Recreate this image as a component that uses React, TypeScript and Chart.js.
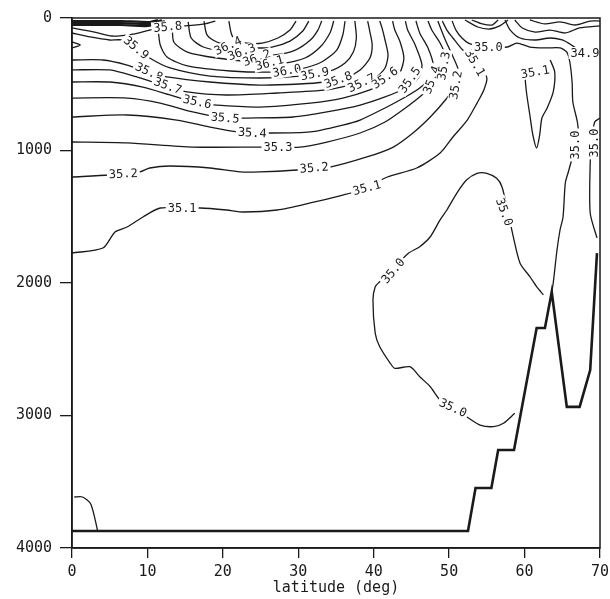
import { useEffect, useRef } from "react";
import { Chart, registerables } from "chart.js";
Chart.register(...registerables);

type P = [number, number];

// axes
const latTicks = [0, 10, 20, 30, 40, 50, 60, 70];
const depthTicks = [0, 1000, 2000, 3000, 4000];
const xTitle = "latitude (deg)";

// contour lines: [latitude (deg), depth (m)]
const c364: P[] = [[20.8,23],[21.1,113],[21.6,166],[23.2,189],[25.2,189],[27.3,151],[28.9,91],[29.7,23]];
const c363: P[] = [[17.5,23],[17.9,128],[19.2,181],[21.2,211],[23.9,226],[26.5,219],[28.9,174],[30.6,98],[31.4,23]];
const c362: P[] = [[15.4,30],[15.8,151],[17.4,219],[20.5,257],[23.6,279],[26.9,279],[29.6,242],[31.6,166],[32.6,91],[33.1,23]];
const c361: P[] = [[13.3,53],[13.5,181],[15.3,257],[19.2,302],[24.3,332],[28.2,340],[30.9,302],[32.9,219],[34.2,113],[34.7,23]];
const c360: P[] = [[11.4,75],[11.7,204],[12.6,294],[15.3,362],[21.0,400],[26.9,408],[30.2,385],[33.1,332],[35.1,242],[35.9,128],[36.2,23]];
const c359: P[] = [[0,113],[2.4,143],[5.0,166],[6.6,166],[8.4,219],[10.3,302],[13.0,377],[18.3,438],[24.9,453],[30.2,438],[34.2,400],[36.2,340],[37.3,257],[37.7,151],[37.5,23]];
const c358: P[] = [[0,317],[4.1,317],[7.3,355],[10.1,408],[12.6,445],[18.3,483],[24.9,506],[30.2,498],[33.5,483],[36.2,453],[38.2,392],[39.5,302],[39.8,204],[39.5,106],[39.2,23]];
const c358s: P[] = [[0,75],[3.0,106],[5.3,136],[8.1,121],[10.3,91],[12.3,68],[15.0,60],[17.6,45],[19.0,23]];
const c357: P[] = [[0,392],[5.0,392],[8.6,445],[10.7,483],[12.7,513],[15.3,558],[20.5,581],[27.2,566],[33.8,543],[37.5,498],[40.2,453],[41.5,377],[41.9,279],[41.5,166],[41.1,75],[40.8,23]];
const c356: P[] = [[0,483],[5.0,483],[9.4,521],[13.0,581],[16.6,642],[19.2,657],[24.9,672],[31.6,642],[35.9,604],[39.5,543],[42.2,468],[43.5,408],[44.0,302],[43.5,181],[42.8,91],[42.5,23]];
const c355: P[] = [[0,604],[7.3,604],[11.7,642],[16.0,709],[20.3,755],[23.2,755],[29.3,747],[33.8,709],[38.2,657],[41.5,596],[44.2,528],[45.9,453],[46.4,355],[45.5,204],[44.5,91],[44.2,23]];
const c354: P[] = [[0,747],[7.3,732],[13.9,770],[18.3,823],[21.9,860],[26.3,868],[31.6,860],[35.9,808],[38.2,770],[41.5,679],[44.2,596],[46.1,528],[47.5,453],[47.9,355],[47.2,226],[46.1,113],[45.6,23]];
const c353: P[] = [[0,936],[7.3,943],[16.0,974],[24.9,974],[30.2,974],[33.8,936],[38.2,868],[41.5,785],[44.2,679],[46.4,581],[48.1,483],[49.3,392],[49.6,302],[48.8,189],[47.7,91],[47.2,23]];
const c352: P[] = [[0,1200],[5.0,1185],[9.0,1162],[10.3,1132],[13.0,1117],[18.3,1132],[22.3,1162],[24.9,1162],[29.8,1147],[34.2,1125],[39.1,1049],[42.6,974],[45.2,868],[47.5,747],[49.5,619],[50.9,506],[51.2,392],[50.4,279],[49.5,166],[48.5,23]];
const c351: P[] = [[0,1774],[4.1,1736],[5.7,1615],[7.3,1577],[9.4,1502],[11.7,1434],[17.0,1434],[20.5,1449],[22.7,1464],[27.2,1449],[31.6,1396],[35.9,1336],[38.2,1298],[41.8,1200],[45.7,1132],[48.8,1019],[50.5,898],[52.4,770],[53.7,642],[54.6,543],[55.0,453],[54.1,355],[52.8,279],[51.8,242],[50.5,151],[49.7,91],[49.1,23]];
const c351v: P[] = [[63.4,317],[64.0,408],[63.8,558],[63.0,679],[62.3,755],[62.0,883],[61.6,981],[61.1,883],[60.7,732],[60.3,581],[60.1,468],[60.2,392]];
const c350a: P[] = [[50.4,23],[50.9,91],[51.7,151],[52.8,196],[55.0,219],[57.7,219],[59.0,189],[60.7,219],[63.0,226],[64.7,226],[65.6,257],[66.0,332],[66.3,483],[66.4,634],[67.0,785],[67.1,883],[66.6,996],[65.8,1162],[65.4,1245],[65.1,1502],[64.7,1600],[64.3,1751],[63.8,2000],[63.6,2068]];
const c350b: P[] = [[62.5,2090],[61.6,2028],[60.7,1952],[59.4,1851],[58.5,1650],[57.8,1464],[57.0,1273],[56.3,1210],[55.0,1172],[53.7,1172],[52.3,1223],[51.0,1323],[49.7,1449],[48.8,1524],[47.5,1651],[46.1,1726],[44.6,1776],[42.6,1890],[40.8,1990],[40.2,2028],[39.9,2128],[40.2,2380],[40.8,2481],[42.2,2606],[42.8,2644],[44.8,2632],[46.1,2707],[47.5,2783],[48.8,2883],[50.5,2950],[52.3,3009],[54.1,3072],[55.9,3084],[57.2,3059],[58.7,2983]];
const c350c: P[] = [[70,755],[69.3,785],[68.9,921],[68.7,1094],[68.7,1472],[69.6,1660]];
const c349: P[] = [[57.4,15],[58.1,91],[59.4,151],[61.4,166],[63.4,151],[65.0,166],[66.0,196],[67.3,242],[70,264]];
const surfA: P[] = [[52.1,15],[53.8,68],[55.4,83],[56.7,60],[57.8,15]];
const surfB: P[] = [[53.0,15],[54.4,45],[55.7,53],[56.5,15]];
const surfC: P[] = [[58.7,15],[59.7,75],[61.4,106],[63.4,91],[65.4,113],[67.3,75],[70,60]];
const surfD: P[] = [[60.7,15],[62.7,45],[64.7,30],[66.7,53],[68.7,23],[70,23]];
const band1: P[] = [[0,23],[6.4,23],[10.3,30],[11.4,15]];
const band2: P[] = [[0,38],[6.4,38],[10.3,45],[11.9,15]];
const band3: P[] = [[0,53],[6.4,53],[10.1,60],[12.3,23]];
const tongue: P[] = [[0,181],[1.1,204],[0,226]];
const deepLeft: P[] = [[0.3,3615],[1.4,3615],[2.5,3670],[3.4,3870]];

// bottom topography
const bottom: P[] = [[0,3872],[52.5,3872],[53.5,3547],[55.6,3547],[56.5,3260],[58.6,3260],[61.6,2340],[62.7,2340],[63.6,2068],[65.6,2935],[67.3,2935],[68.7,2657],[69.6,1774]];

// contour labels: text, latitude, depth, rotation (deg)
const labelText = ["35.8","35.9","35.8","35.7","35.6","35.5","35.4","35.3","35.2","35.2","35.1","35.1","36.4","36.3","36.2","36.1","36.0","35.9","35.8","35.7","35.6","35.5","35.4","35.3","35.2","35.1","35.0","34.9","35.1","35.0","35.0","35.0","35.0","35.0"];
const labelLat = [12.7,8.5,10.2,12.7,16.6,20.3,23.9,27.3,6.8,32.1,14.6,39.1,20.7,22.5,24.5,26.2,28.5,32.2,35.3,38.4,41.5,44.8,47.7,49.3,50.9,53.4,55.2,68.0,61.4,66.7,69.3,57.3,42.6,50.5];
const labelDepth = [68,226,408,513,634,755,868,974,1177,1132,1434,1283,211,257,302,340,400,423,468,491,453,468,468,362,506,340,219,264,408,958,943,1464,1909,2943];
const labelAngle = [-5,40,25,20,12,5,3,0,-3,-5,0,-15,-25,-20,-20,-15,-10,-10,-20,-25,-35,-55,-70,-80,-80,60,0,0,-10,-90,-90,70,-50,25];

const thin: P[][] = [c364,c363,c362,c361,c360,c359,c358,c358s,c357,c356,c355,c354,c353,c352,c351,c351v,c350a,c350b,c350c,c349,surfA,surfB,surfC,surfD,tongue,deepLeft];
const thick: P[][] = [band1,band2,band3];

const INK = "#1a1a1a";
const MONO = "'DejaVu Sans Mono', 'Liberation Mono', monospace";

export default function App() {
  const ref = useRef<HTMLCanvasElement | null>(null);
  useEffect(() => {
    if (!ref.current) return;
    const toXY = (arr: P[]) => arr.map(([x, y]) => ({ x, y }));
    const datasets: any[] = [];
    thin.forEach((c, i) => datasets.push({ label: "c" + i, data: toXY(c), showLine: true, borderColor: INK, borderWidth: 1.3, pointRadius: 0, tension: 0.25, fill: false }));
    thick.forEach((c, i) => datasets.push({ label: "b" + i, data: toXY(c), showLine: true, borderColor: INK, borderWidth: 2.2, pointRadius: 0, tension: 0.2, fill: false }));
    datasets.push({ label: "bottom", data: toXY(bottom), showLine: true, borderColor: INK, borderWidth: 2.6, pointRadius: 0, tension: 0, fill: false });

    const labelPlugin = {
      id: "contourLabels",
      afterDatasetsDraw(chart: any) {
        const { ctx, scales } = chart;
        ctx.save();
        ctx.font = "12px " + MONO;
        ctx.textAlign = "center";
        ctx.textBaseline = "middle";
        labelText.forEach((t, i) => {
          const px = scales.x.getPixelForValue(labelLat[i]);
          const py = scales.y.getPixelForValue(labelDepth[i]);
          ctx.save();
          ctx.translate(px, py);
          ctx.rotate((labelAngle[i] * Math.PI) / 180);
          const w = ctx.measureText(t).width;
          ctx.fillStyle = "#ffffff";
          ctx.fillRect(-w / 2 - 2, -6, w + 4, 12);
          ctx.fillStyle = INK;
          ctx.fillText(t, 0, 0.5);
          ctx.restore();
        });
        ctx.restore();
      },
    };
    const framePlugin = {
      id: "frame",
      afterDraw(chart: any) {
        const { ctx, chartArea: a } = chart;
        ctx.save();
        ctx.strokeStyle = INK;
        ctx.lineWidth = 1.5;
        ctx.strokeRect(a.left, a.top, a.right - a.left, a.bottom - a.top);
        ctx.restore();
      },
    };

    const chart = new Chart(ref.current, {
      type: "scatter",
      data: { datasets },
      options: {
        animation: false,
        responsive: false,
        devicePixelRatio: 1,
        layout: { padding: { left: 0, right: 10, top: 18, bottom: 0 } },
        plugins: { legend: { display: false }, tooltip: { enabled: false } },
        scales: {
          x: {
            type: "linear",
            min: latTicks[0],
            max: latTicks[latTicks.length - 1],
            afterBuildTicks: (s: any) => { s.ticks = latTicks.map((v) => ({ value: v })); },
            afterFit: (s: any) => { s.height = 51; s.paddingLeft = 0; s.paddingRight = 0; },
            ticks: { color: INK, font: { family: MONO, size: 15 }, padding: 5, maxRotation: 0, autoSkip: false, callback: (v: any) => String(v) },
            grid: { drawOnChartArea: false, drawTicks: true, tickLength: 10, color: INK, lineWidth: 1.3 },
            border: { display: true, color: INK, width: 1.5 },
            title: { display: true, text: xTitle, color: INK, font: { family: MONO, size: 15 }, padding: { top: 0, bottom: 2 } },
          },
          y: {
            type: "linear",
            reverse: true,
            min: depthTicks[0],
            max: depthTicks[depthTicks.length - 1],
            afterBuildTicks: (s: any) => { s.ticks = depthTicks.map((v) => ({ value: v })); },
            afterFit: (s: any) => { s.width = 72; s.paddingTop = 0; s.paddingBottom = 0; },
            ticks: { color: INK, font: { family: MONO, size: 15 }, padding: 8, autoSkip: false, callback: (v: any) => String(v) },
            grid: { drawOnChartArea: false, drawTicks: true, tickLength: 12, color: INK, lineWidth: 1.3 },
            border: { display: true, color: INK, width: 1.5 },
          },
        },
      },
      plugins: [labelPlugin, framePlugin],
    } as any);
    return () => chart.destroy();
  }, []);

  return (
    <div style={{ position: "fixed", left: 0, top: 0, width: 610, height: 599, background: "#fff" }}>
      <canvas ref={ref} width={610} height={599} style={{ display: "block" }} />
    </div>
  );
}
